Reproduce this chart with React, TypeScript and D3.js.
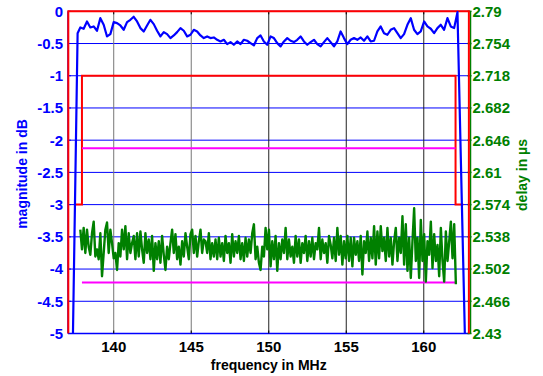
import React from 'react';
import * as d3 from 'd3';

// tick labels
const freqTicks = [140, 145, 150, 155, 160];
const magTicks = [0, -0.5, -1, -1.5, -2, -2.5, -3, -3.5, -4, -4.5, -5];
const delayTicks = [2.79, 2.754, 2.718, 2.682, 2.646, 2.61, 2.574, 2.538, 2.502, 2.466, 2.43];

// magnitude response (dB), sampled from 137.845 MHz every 0.2153 MHz
const magStart = 137.845;
const magStep = 0.2153;
const magValues = [
  -0.251, -0.271, -0.158, -0.251, -0.235, -0.302, -0.106, -0.209, -0.39, -0.354,
  -0.168, -0.183, -0.22, -0.287, -0.168, -0.132, -0.085, -0.158, -0.261, -0.313,
  -0.22, -0.132, -0.199, -0.302, -0.39, -0.323, -0.354, -0.416, -0.375, -0.323,
  -0.261, -0.302, -0.39, -0.364, -0.287, -0.313, -0.375, -0.416, -0.39, -0.416,
  -0.406, -0.442, -0.468, -0.442, -0.509, -0.478, -0.519, -0.468, -0.509, -0.442,
  -0.457, -0.494, -0.53, -0.416, -0.375, -0.468, -0.519,
  -0.39, -0.416, -0.494, -0.545, -0.468, -0.416, -0.457, -0.478, -0.442, -0.39,
  -0.468, -0.519, -0.478, -0.442, -0.509, -0.545, -0.478, -0.416, -0.478, -0.545,
  -0.468, -0.313, -0.416, -0.509, -0.442, -0.416, -0.442, -0.406, -0.457, -0.39,
  -0.468, -0.457, -0.313, -0.235, -0.339, -0.364, -0.287, -0.261, -0.339, -0.416,
  -0.354, -0.209, -0.106, -0.287, -0.354, -0.313, -0.158, -0.235, -0.271, -0.339,
  -0.261, -0.209, -0.287, -0.106, -0.235, -0.261, -0.013,
];
// filter skirts
const magRiseFreq = [137.37, 137.67];
const magRise = [-5, -0.34];
const magFallFreq = [162.65];
const magFall = [-5];

// group delay (µs), sampled from 137.845 MHz every 0.10767 MHz
const delayStart = 137.845;
const delayStep = 0.10767;
const delayValues = [
  2.546, 2.524, 2.548, 2.52, 2.546, 2.527, 2.518, 2.542, 2.555, 2.516,
  2.524, 2.513, 2.542, 2.494, 2.52, 2.546, 2.554, 2.52, 2.546, 2.531,
  2.514, 2.52, 2.501, 2.531, 2.516, 2.546, 2.524, 2.55, 2.513, 2.542,
  2.52, 2.531, 2.539, 2.513, 2.542, 2.516, 2.544, 2.524, 2.509, 2.542,
  2.52, 2.535, 2.513, 2.539, 2.5, 2.531, 2.513, 2.533, 2.509, 2.539,
  2.518, 2.501, 2.527, 2.513, 2.531, 2.546, 2.52, 2.541, 2.513, 2.527,
  2.507, 2.533, 2.516, 2.542, 2.527, 2.513, 2.541, 2.546, 2.52, 2.539,
  2.516, 2.533, 2.546, 2.52, 2.535,
  2.533, 2.52, 2.542, 2.513, 2.531, 2.516, 2.535, 2.513, 2.537, 2.516,
  2.531, 2.511, 2.539, 2.52, 2.531, 2.509, 2.541, 2.516, 2.533, 2.52,
  2.539, 2.513, 2.531, 2.511, 2.537, 2.516, 2.535, 2.52, 2.542, 2.552,
  2.513, 2.527, 2.509, 2.501, 2.527, 2.516, 2.548, 2.524, 2.546, 2.505,
  2.533, 2.513, 2.539, 2.5, 2.531, 2.513, 2.535, 2.52, 2.548, 2.513,
  2.535, 2.516, 2.527, 2.509, 2.539, 2.516, 2.535, 2.509, 2.531, 2.52,
  2.539, 2.511, 2.533, 2.516, 2.537, 2.513, 2.531, 2.524, 2.548, 2.513,
  2.535, 2.52, 2.531, 2.509, 2.539,
  2.529, 2.514, 2.537, 2.511, 2.548, 2.518, 2.539, 2.507, 2.533, 2.514,
  2.539, 2.511, 2.537, 2.505, 2.537, 2.518, 2.533, 2.511, 2.539, 2.496,
  2.533, 2.52, 2.544, 2.511, 2.537, 2.514, 2.55, 2.507, 2.544, 2.514,
  2.55, 2.522, 2.537, 2.511, 2.548, 2.516, 2.537, 2.507, 2.533, 2.548,
  2.511, 2.537, 2.52, 2.561, 2.507, 2.552, 2.5, 2.537, 2.492, 2.533,
  2.57, 2.511, 2.537, 2.492, 2.557, 2.511, 2.541, 2.488, 2.533, 2.518,
  2.555, 2.503, 2.541, 2.511, 2.529, 2.494, 2.548, 2.511, 2.488, 2.544,
  2.511, 2.533, 2.555, 2.514, 2.552, 2.485,
];

// magnitude tolerance mask (dB)
const maskLowFreq = [137.45, 137.95, 137.95, 162.05, 162.05, 162.55];
const maskLow = [-3, -3, -1, -1, -3, -3];
const maskUpFreq = [137.07, 137.07, 162.91, 162.91];
const maskUp = [-5, 0, 0, -5];

// group delay limits (µs)
const delayLimitFreq = [137.95, 162.05];
const delayLimits = [2.637, 2.487];

const App = () => {
  const width = 543;
  const height = 376;
  const left = 68;
  const right = 469.5;
  const top = 11.3;
  const bottom = 333.5;
  const font = "'Liberation Sans', Arial, sans-serif";

  const x = d3.scaleLinear().domain([137.05, 162.95]).range([left, right]);
  const yMag = d3.scaleLinear().domain([-5, 0]).range([bottom, top]);
  const yDelay = d3.scaleLinear().domain([2.43, 2.79]).range([bottom, top]);

  const magPts: [number, number][] = [
    ...magRiseFreq.map((f, i) => [f, magRise[i]] as [number, number]),
    ...magValues.map((v, i) => [magStart + i * magStep, v] as [number, number]),
    ...magFallFreq.map((f, i) => [f, magFall[i]] as [number, number]),
  ];
  const delayPts: [number, number][] = delayValues.map((v, i) => [delayStart + i * delayStep, v]);

  const magLine = d3.line<[number, number]>().x(d => x(d[0])).y(d => yMag(d[1]));
  const delayLine = d3.line<[number, number]>().x(d => x(d[0])).y(d => yDelay(d[1]));

  const lowPts = maskLowFreq.map((f, i) => [f, maskLow[i]] as [number, number]);
  const upPts = maskUpFreq.map((f, i) => [f, maskUp[i]] as [number, number]);

  return (
    <svg width={width} height={height} style={{ position: 'absolute', left: 0, top: 0, background: '#fff' }}>
      {/* horizontal grid */}
      {magTicks.map(t => (
        <line key={'hg' + t} x1={left} x2={right} y1={yMag(t)} y2={yMag(t)} stroke='#0000ff' strokeWidth={1} />
      ))}
      {/* vertical grid */}
      {freqTicks.map((t, i) => (
        <line key={'vg' + t} x1={x(t)} x2={x(t)} y1={top} y2={bottom} stroke={i < 2 ? '#777' : '#222'} strokeWidth={1} />
      ))}
      {/* frame */}
      <line x1={left} x2={right} y1={top} y2={top} stroke='#888' />
      <line x1={left} x2={right} y1={bottom} y2={bottom} stroke='#0000ff' strokeWidth={1.5} />
      <line x1={left} x2={left} y1={top} y2={bottom} stroke='#0000ff' strokeWidth={1.5} />
      <line x1={right + 1} x2={right + 1} y1={top} y2={bottom} stroke='#008000' strokeWidth={1.5} />

      {/* ticks */}
      {freqTicks.map(t => (
        <g key={'xt' + t}>
          <line x1={x(t)} x2={x(t)} y1={bottom} y2={bottom - 3} stroke='#000' />
          <line x1={x(t)} x2={x(t)} y1={top} y2={top + 3} stroke='#000' />
        </g>
      ))}
      {magTicks.map(t => (
        <line key={'lt' + t} x1={left} x2={left + 3} y1={yMag(t)} y2={yMag(t)} stroke='#0000ff' />
      ))}
      {delayTicks.map(t => (
        <line key={'rt' + t} x1={right - 2} x2={right + 2} y1={yDelay(t)} y2={yDelay(t)} stroke='#008000' strokeWidth={1.5} />
      ))}

      {/* masks */}
      <path d={magLine(upPts) || ''} fill='none' stroke='#ff0000' strokeWidth={2} />
      <path d={magLine(lowPts) || ''} fill='none' stroke='#ff0000' strokeWidth={2} />
      {delayLimits.map(l => (
        <line key={'dl' + l} x1={x(delayLimitFreq[0])} x2={x(delayLimitFreq[1])} y1={yDelay(l)} y2={yDelay(l)} stroke='#ff00ff' strokeWidth={2} />
      ))}

      {/* measured curves */}
      <path d={delayLine(delayPts) || ''} fill='none' stroke='#008000' strokeWidth={2.4} strokeLinejoin='round' />
      <path d={magLine(magPts) || ''} fill='none' stroke='#0000ff' strokeWidth={2.2} strokeLinejoin='round' />

      {/* tick labels */}
      <g fontFamily={font} fontWeight='bold' fontSize={15}>
        {magTicks.map(t => (
          <text key={'ll' + t} x={left - 5} y={yMag(t)} dy='0.36em' textAnchor='end' fill='#0000ff'>{t}</text>
        ))}
        {delayTicks.map(t => (
          <text key={'rl' + t} x={right + 3} y={yDelay(t)} dy='0.36em' textAnchor='start' fill='#008000'>{t}</text>
        ))}
        {freqTicks.map(t => (
          <text key={'bl' + t} x={x(t)} y={352} textAnchor='middle' fill='#000'>{t}</text>
        ))}
      </g>

      {/* axis titles */}
      <g fontFamily={font} fontWeight='bold' fontSize={14}>
        <text x={(left + right) / 2} y={370} textAnchor='middle' fill='#000'>frequency in MHz</text>
        <text transform='translate(27,174) rotate(-90)' textAnchor='middle' fill='#0000ff'>magnitude in dB</text>
        <text transform='translate(527,175) rotate(-90)' textAnchor='middle' fill='#008000'>delay in µs</text>
      </g>
    </svg>
  );
};

export default App;
